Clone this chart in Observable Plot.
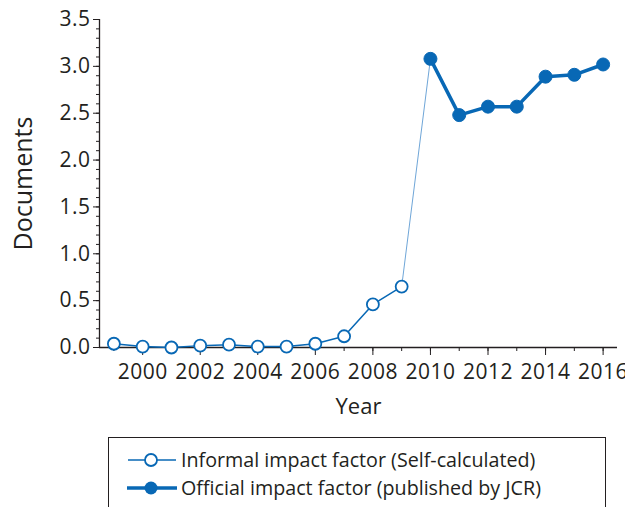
<!DOCTYPE html>
<html>
<head>
<meta charset="utf-8">
<script src="https://cdn.jsdelivr.net/npm/d3@7"></script>
<script src="https://cdn.jsdelivr.net/npm/@observablehq/plot@0.6"></script>
<style>
  body { margin: 0; background: #fff; font-family: "Open Sans", sans-serif; color: #231f20; overflow: hidden; }
  #chart svg { overflow: visible; display: block; }
  #chart g[aria-label="x-axis tick label"] text, #chart g[aria-label="y-axis tick label"] text { letter-spacing: 0.5px; }
  .legend { position: absolute; left: 108px; top: 437px; width: 498px; height: 90px; border: 1.3px solid #231f20; box-sizing: border-box; }
  .row { position: absolute; left: 18px; display: flex; align-items: center; font-size: 19.7px; white-space: nowrap; }
  .row svg { margin-right: 4px; }
</style>
</head>
<body>
<div id="chart"></div>
<div class="legend">
  <div class="row" style="top:8px">
    <svg width="50" height="16"><line x1="1" x2="49" y1="8" y2="8" stroke="#0868b5" stroke-width="1.5"/><circle cx="24" cy="8" r="6" fill="#fff" stroke="#0868b5" stroke-width="1.8"/></svg>
    <span>Informal impact factor (Self-calculated)</span>
  </div>
  <div class="row" style="top:36px">
    <svg width="50" height="16"><line x1="0" x2="50" y1="8" y2="8" stroke="#0868b5" stroke-width="3.5"/><circle cx="24" cy="8" r="6.5" fill="#0868b5"/></svg>
    <span>Official impact factor (published by JCR)</span>
  </div>
</div>
<script>
const informalYears = [1999, 2000, 2001, 2002, 2003, 2004, 2005, 2006, 2007, 2008, 2009];
const informalValues = [0.04, 0.01, 0.00, 0.02, 0.03, 0.01, 0.01, 0.04, 0.12, 0.46, 0.65];
const officialYears = [2010, 2011, 2012, 2013, 2014, 2015, 2016];
const officialValues = [3.08, 2.48, 2.57, 2.57, 2.89, 2.91, 3.02];
const yMajorTicks = [0, 0.5, 1.0, 1.5, 2.0, 2.5, 3.0, 3.5];
const xMajorTicks = [2000, 2002, 2004, 2006, 2008, 2010, 2012, 2014, 2016];

const informal = informalYears.map((year, i) => ({year, value: informalValues[i]}));
const official = officialYears.map((year, i) => ({year, value: officialValues[i]}));
const connector = [informal[informal.length - 1], official[0]];
const yMinor = d3.range(0, 36).map(i => i / 10);
const xMinor = d3.range(informalYears[0], officialYears[officialYears.length - 1] + 1);
const blue = "#0868b5";
const ink = "#231f20";

const plot = Plot.plot({
  width: 625,
  height: 425,
  marginLeft: 99,
  marginRight: 8,
  marginTop: 19,
  marginBottom: 78,
  style: {fontFamily: "'Open Sans', sans-serif", fontSize: "21px", color: ink, background: "#fff"},
  x: {domain: [1998.5, 2016.5]},
  y: {domain: [0, 3.5]},
  marks: [
    Plot.axisY(yMinor, {tickSize: 3, tickFormat: () => "", stroke: ink, label: null}),
    Plot.axisY(yMajorTicks, {tickSize: 6, tickPadding: 3, tickFormat: d3.format(".1f"), stroke: ink, fill: ink, fontSize: 21, label: null}),
    Plot.axisY({ticks: [], tickSize: 0, label: "Documents", labelAnchor: "center", labelOffset: 85, labelArrow: "none", fontSize: 25, fill: ink}),
    Plot.axisX(xMinor, {tickSize: 4, tickFormat: () => "", stroke: ink, label: null}),
    Plot.axisX(xMajorTicks, {tickSize: 8, tickPadding: 9, tickFormat: d => String(d), stroke: ink, fill: ink, fontSize: 21, label: null}),
    Plot.axisX({ticks: [], tickSize: 0, label: "Year", labelAnchor: "center", labelOffset: 66, labelArrow: "none", fontSize: 22, fill: ink}),
    Plot.ruleX([1998.5], {stroke: ink, strokeWidth: 1.3}),
    Plot.ruleY([0], {stroke: ink, strokeWidth: 1.3}),
    Plot.line(connector, {x: "year", y: "value", stroke: "#6fa6d8", strokeWidth: 1}),
    Plot.line(informal, {x: "year", y: "value", stroke: blue, strokeWidth: 1.5}),
    Plot.line(official, {x: "year", y: "value", stroke: blue, strokeWidth: 3.5}),
    Plot.dot(informal, {x: "year", y: "value", r: 6, fill: "#fff", stroke: blue, strokeWidth: 1.8}),
    Plot.dot(official, {x: "year", y: "value", r: 6.5, fill: blue, stroke: blue, strokeWidth: 1})
  ]
});
document.getElementById("chart").appendChild(plot);
</script>
</body>
</html>
